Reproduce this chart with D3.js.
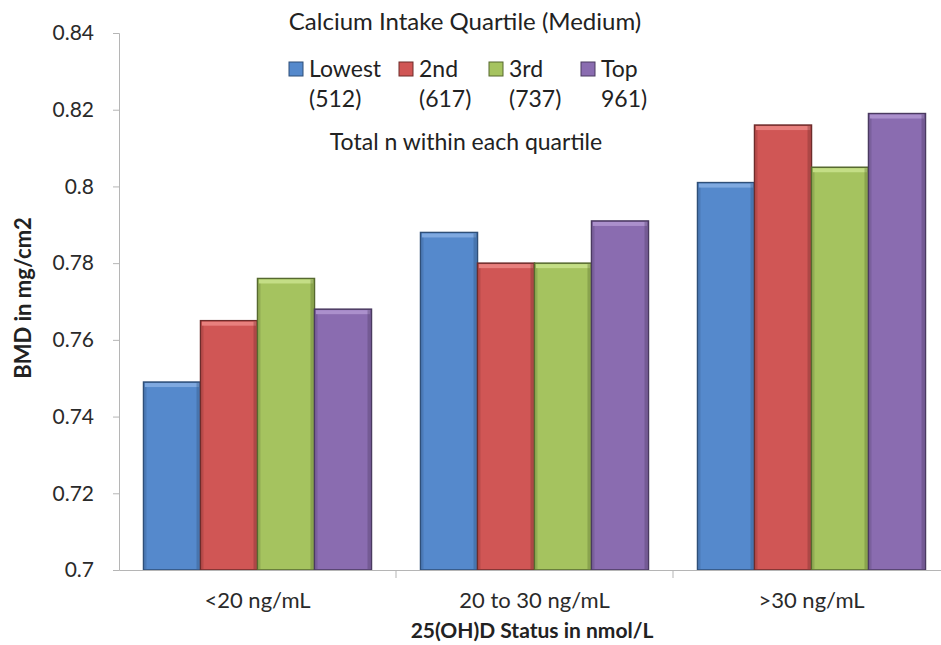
<!DOCTYPE html>
<html>
<head>
<meta charset="utf-8">
<script src="https://cdn.jsdelivr.net/npm/d3@7"></script>
<style>
  body { margin: 0; background: #fff; }
  svg text { font-family: Lato, "Open Sans", sans-serif; }
</style>
</head>
<body>
<div id="main-container"></div>
<script>
var categories = ["<20 ng/mL", "20 to 30 ng/mL", ">30 ng/mL"];
var seriesNames = ["Lowest", "2nd", "3rd", "Top"];
var seriesCounts = ["(512)", "(617)", "(737)", "961)"];
var lowest = [0.749, 0.788, 0.801];
var second = [0.765, 0.780, 0.816];
var third = [0.776, 0.780, 0.805];
var top4 = [0.768, 0.791, 0.819];
var yTicks = [0.7, 0.72, 0.74, 0.76, 0.78, 0.8, 0.82, 0.84];

var colors = ["#5589cc", "#d05655", "#a5c35f", "#8a6cb0"];
var edges = ["#2f4f78", "#6e2c2b", "#56692f", "#4a3a60"];
var highlights = ["#7fa9e0", "#e8807e", "#c4de86", "#ab90cc"];

var allSeries = [lowest, second, third, top4];
var width = 941, height = 645;
var left = 119, bottom = 570, topY = 33;

var svg = d3.select("#main-container").append("svg")
    .attr("width", width).attr("height", height);

var x0 = d3.scaleBand().domain(categories).range([left, 950]).padding(0);
var x1 = d3.scaleBand().domain(d3.range(seriesNames.length))
    .range([0, x0.bandwidth()]).paddingInner(0).paddingOuter(0.43);
var y = d3.scaleLinear().domain([0.7, 0.84]).range([bottom, topY]);

// y axis
var yAxis = svg.append("g").attr("transform", "translate(" + left + ",0)")
    .call(d3.axisLeft(y).tickValues(yTicks).tickSize(6).tickPadding(19)
        .tickFormat(function(d) { return String(+d.toFixed(2)); }));
yAxis.select(".domain").attr("stroke", "#b5b5b5");
yAxis.selectAll(".tick line").attr("stroke", "#b5b5b5");
yAxis.selectAll("text").attr("font-size", "21px").attr("fill", "#2a2a2a");

// bars
categories.forEach(function(cat, ci) {
    allSeries.forEach(function(vals, si) {
        var bx = x0(cat) + x1(si), bw = x1.bandwidth();
        var by = y(vals[ci]), bh = bottom - by;
        var g = svg.append("g");
        g.append("rect").attr("x", bx).attr("y", by).attr("width", bw).attr("height", bh)
            .attr("fill", colors[si]).attr("stroke", edges[si]).attr("stroke-width", 1.5);
        g.append("rect").attr("x", bx + 1.5).attr("y", by + 1).attr("width", bw - 3).attr("height", 4)
            .attr("fill", highlights[si]);
        g.append("rect").attr("x", bx + bw - 4).attr("y", by + 1).attr("width", 3).attr("height", bh - 2)
            .attr("fill", edges[si]).attr("opacity", 0.35);
        g.append("rect").attr("x", bx + 1).attr("y", by + 5).attr("width", 2).attr("height", bh - 6)
            .attr("fill", edges[si]).attr("opacity", 0.25);
    });
});

// x axis
var xAxis = svg.append("g").attr("transform", "translate(0," + bottom + ")")
    .call(d3.axisBottom(x0).tickSize(0).tickPadding(22));
xAxis.select(".domain").attr("stroke", "#b5b5b5");
xAxis.selectAll("text").attr("font-size", "22px").attr("fill", "#2a2a2a");
svg.selectAll(".xdiv").data(categories.slice(1)).enter().append("line")
    .attr("x1", function(d) { return x0(d); }).attr("x2", function(d) { return x0(d); })
    .attr("y1", bottom).attr("y2", bottom + 8).attr("stroke", "#b5b5b5");

// axis titles
svg.append("text").attr("x", 532).attr("y", 638).attr("text-anchor", "middle")
    .attr("font-size", "21px").attr("font-weight", "bold").attr("fill", "#222")
    .text("25(OH)D Status in nmol/L");
svg.append("text").attr("transform", "translate(31,298) rotate(-90)").attr("text-anchor", "middle")
    .attr("font-size", "22px").attr("font-weight", "bold").attr("fill", "#222")
    .text("BMD in mg/cm2");

// title and legend
svg.append("text").attr("x", 465).attr("y", 30).attr("text-anchor", "middle")
    .attr("font-size", "24px").attr("fill", "#222").text("Calcium Intake Quartile (Medium)");
var legX = [289, 399, 489, 581];
seriesNames.forEach(function(name, i) {
    svg.append("rect").attr("x", legX[i]).attr("y", 62).attr("width", 14).attr("height", 14)
        .attr("fill", colors[i]).attr("stroke", edges[i]).attr("stroke-width", 1);
    svg.append("text").attr("x", legX[i] + 20).attr("y", 77).attr("font-size", "23px")
        .attr("fill", "#222").text(name);
    svg.append("text").attr("x", legX[i] + 20).attr("y", 107).attr("font-size", "23px")
        .attr("fill", "#222").text(seriesCounts[i]);
});
svg.append("text").attr("x", 466).attr("y", 150).attr("text-anchor", "middle")
    .attr("font-size", "23px").attr("fill", "#222").text("Total n within each quartile");
</script>
</body>
</html>
